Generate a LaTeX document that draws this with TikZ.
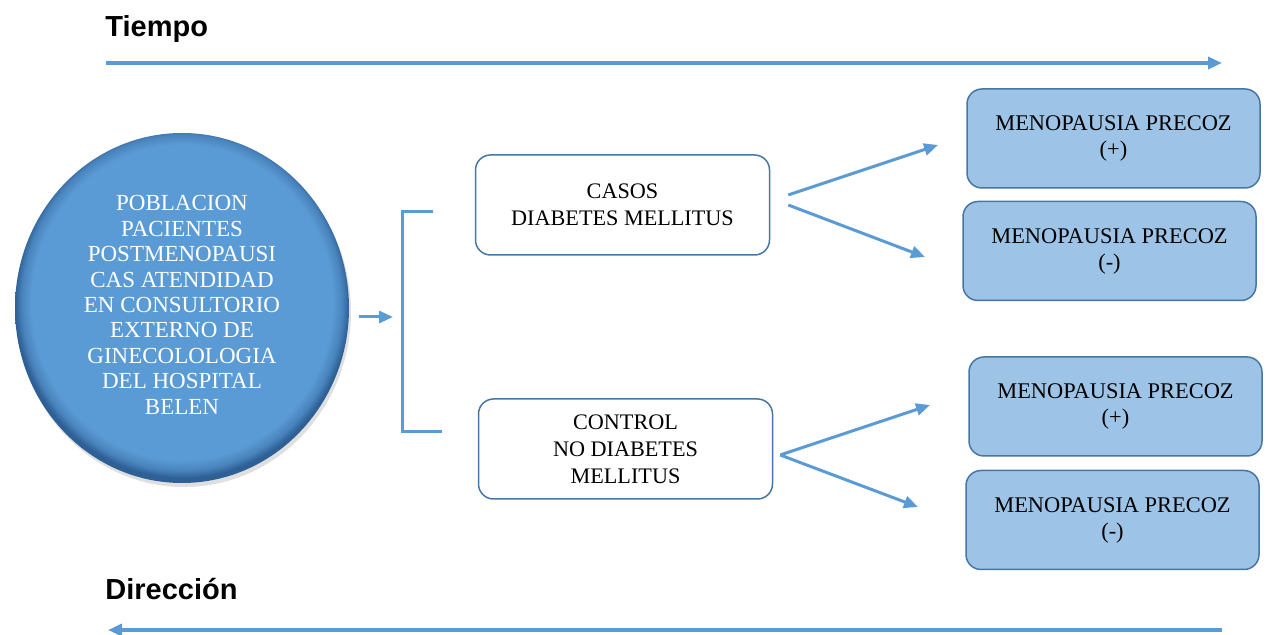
\documentclass[tikz,border=0pt]{standalone}
\usepackage{fontspec}
\setmainfont{Liberation Serif}
\newfontfamily\headfont{Liberation Sans}
\usetikzlibrary{shapes.geometric, arrows.meta, positioning, shadows}
\definecolor{flowcolor}{RGB}{91, 155, 213}
\definecolor{rimcolor}{RGB}{46, 96, 150}
\definecolor{edgecolor}{RGB}{72, 118, 162}
\definecolor{resultcolor}{RGB}{157, 195, 230}
\pgfdeclareradialshading{bevel}{\pgfpoint{0bp}{1.5bp}}{%
    color(0bp)=(flowcolor); color(22.5bp)=(flowcolor);
    color(24bp)=(flowcolor!60!rimcolor); color(25bp)=(rimcolor);
    color(50bp)=(rimcolor)}

\begin{document}
\begin{tikzpicture}[x=0.5pt, y=-0.5pt,
    % Group boxes
    group/.style={
        rectangle,
        rounded corners=7.5pt,
        minimum width=147pt,
        minimum height=50pt,
        draw=edgecolor,
        line width=0.75pt,
        fill=white,
        align=center,
        font=\fontsize{11.1}{13.5}\selectfont
    },
    % Result boxes
    result/.style={
        group,
        fill=resultcolor,
        minimum width=146.5pt,
        minimum height=49.5pt,
        font=\fontsize{11.2}{13}\selectfont
    },
    % Arrow style
    arrow/.style={
        -{Triangle[length=7pt, width=6pt]},
        line width=1.5pt,
        color=flowcolor
    },
    % Time line style
    timeline/.style={
        -{Triangle[length=7pt, width=6pt]},
        line width=2pt,
        color=flowcolor
    },
    % Title style
    title/.style={
        font=\headfont\bfseries\fontsize{14.5}{17}\selectfont,
        anchor=base west,
        inner sep=0pt
    }
]

\useasboundingbox (0,0) rectangle (1270,635);

% ===== TIME AND DIRECTION =====

\node[title] (tiempo) at (105,37) {Tiempo};
\coordinate (tstart) at (106,63);
\coordinate (tend) at (1222,63);
\draw[timeline] (tstart) -- (tend);

\node[title] (direccion) at (105,600) {Dirección};
\coordinate (dstart) at (1222,630);
\coordinate (dend) at (108,630);
\draw[timeline] (dstart) -- (dend);

% ===== POPULATION =====

\node[ellipse, minimum width=167pt, minimum height=175pt, draw=none,
      shading=bevel,
      drop shadow={shadow xshift=1pt, shadow yshift=-2pt, opacity=0.25}]
      (pob) at (182,308) {};
\node[text=white, align=center, font=\fontsize{11.5}{12.7}\selectfont] (pobtext) at (182,305) {
    POBLACION\\
    PACIENTES\\
    POSTMENOPAUSI\\
    CAS ATENDIDAD\\
    EN CONSULTORIO\\
    EXTERNO DE\\
    GINECOLOLOGIA\\
    DEL HOSPITAL\\
    BELEN
};

% ===== BRACKET =====

\coordinate (brktop) at (402,212);
\coordinate (brkmid) at (402,317);
\coordinate (brkbot) at (402,432);
\draw[arrow, shorten <=5pt, shorten >=4.5pt] (pob.east |- brkmid) -- (brkmid);
\draw[line width=1.5pt, color=flowcolor] ([xshift=15.5pt]brktop) -- (brktop) -- (brkbot) -- ([xshift=20pt]brkbot);

% ===== GROUPS =====

\node[group] (casos) at (622.5,205) {
    CASOS\\
    DIABETES MELLITUS
};

\node[group] (control) at (625.5,449) {
    CONTROL\\
    NO DIABETES\\
    MELLITUS
};

% ===== RESULTS =====

\node[result] (casospos) at (1113.5,138.5) {
    MENOPAUSIA PRECOZ\\
    (+)
};
\node[result, below=6pt of casospos, xshift=-2pt] (casosneg) {
    MENOPAUSIA PRECOZ\\
    (-)
};

\node[result] (controlpos) at (1115.5,406.5) {
    MENOPAUSIA PRECOZ\\
    (+)
};
\node[result, below=6.5pt of controlpos, xshift=-1.5pt] (controlneg) {
    MENOPAUSIA PRECOZ\\
    (-)
};

% ===== FORK ARROWS =====

\coordinate (casostippos) at (938,145);
\coordinate (casostipneg) at (925,257);
\draw[arrow] ([xshift=9pt, yshift=5pt]casos.east) -- (casostippos);
\draw[arrow] ([xshift=9pt]casos.east) -- (casostipneg);

\coordinate (controltippos) at (930,405);
\coordinate (controltipneg) at (918,507);
\draw[arrow] ([xshift=3.5pt, yshift=-3pt]control.east) -- (controltippos);
\draw[arrow] ([xshift=3.5pt, yshift=-3pt]control.east) -- (controltipneg);

\end{tikzpicture}
\end{document}
